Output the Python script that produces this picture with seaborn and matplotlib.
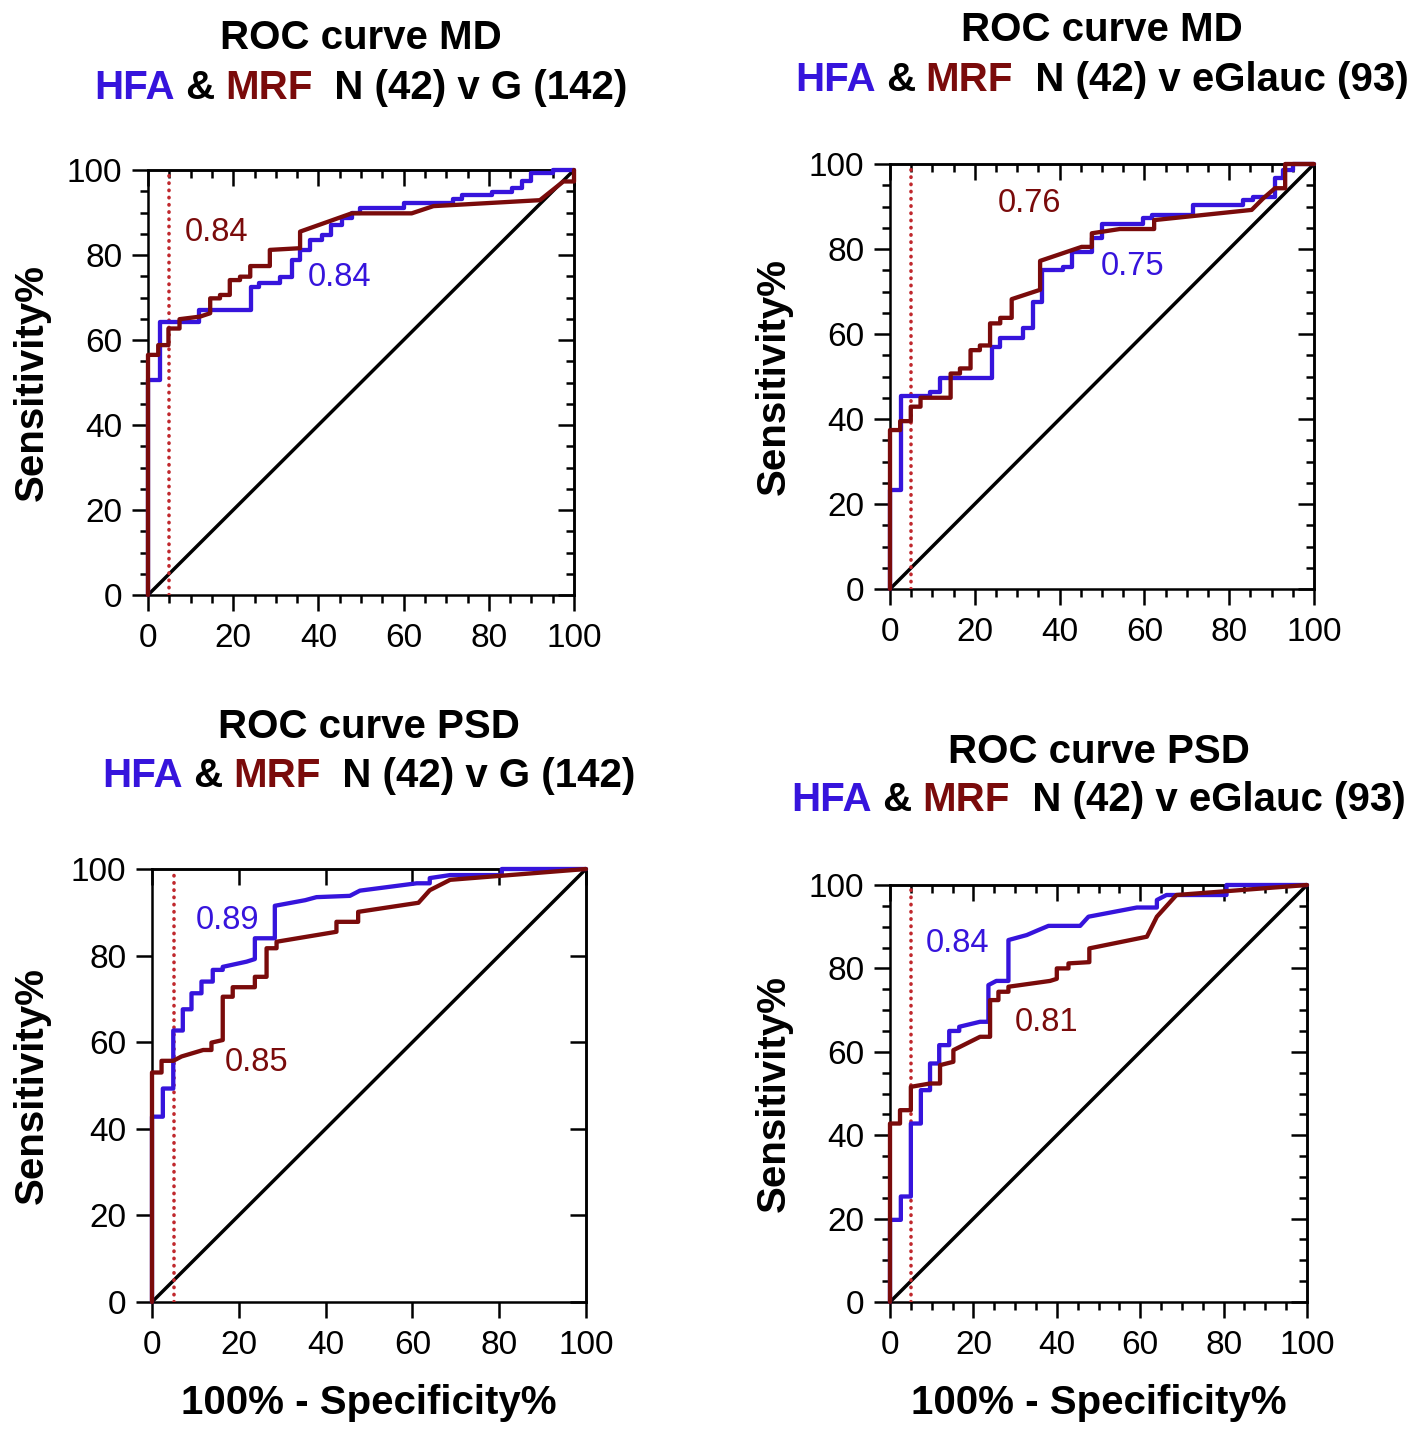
import matplotlib
matplotlib.use("Agg")
import matplotlib.pyplot as plt
from matplotlib.ticker import MultipleLocator
import pandas as pd
import seaborn as sns

# colours
HFA_BLUE = "#3614DC"
MRF_RED = "#7A0B0B"
CUT_RED = "#C0282D"

# ---- ROC curves (x = 100% - specificity, y = sensitivity) ----
md_g_hfa_x = [0, 0, 2.8, 2.8, 12, 12, 24.2, 24.2, 26, 26, 31, 31, 33.7, 33.7, 35.7, 35.7, 38, 38, 40.8, 40.8,
              43, 43, 45.5, 45.5, 47.8, 47.8, 49.8, 49.8, 60, 60, 71.7, 71.7, 73.6, 73.6, 80.7, 80.7, 85.4, 85.4,
              87.7, 87.7, 90, 90, 95, 95, 100]
md_g_hfa_y = [0, 50.6, 50.6, 64.3, 64.3, 67, 67, 72.5, 72.5, 73.5, 73.5, 74.9, 74.9, 78.8, 78.8, 81.2, 81.2, 83.5,
              83.5, 84.7, 84.7, 87, 87, 88.6, 88.6, 89.8, 89.8, 91, 91, 92.3, 92.3, 93.1, 93.1, 94.1, 94.1, 94.9,
              94.9, 95.7, 95.7, 97.3, 97.3, 99.2, 99.2, 100, 100]
md_g_mrf_x = [0, 0, 2.4, 2.4, 4.8, 4.8, 7.4, 7.4, 12.2, 14.6, 14.6, 16.9, 16.9, 19.2, 19.2, 21.6, 21.6, 24, 24,
              28.6, 28.6, 35.7, 35.7, 47.8, 61.9, 67, 92, 97.5, 100, 100]
md_g_mrf_y = [0, 56.5, 56.5, 58.8, 58.8, 62.7, 62.7, 64.9, 65.5, 66.3, 69.8, 69.8, 70.6, 70.6, 74.1, 74.1, 74.9,
              74.9, 77.4, 77.4, 81.2, 81.6, 85.5, 89.8, 89.8, 91.5, 92.9, 97.3, 97.3, 100]

md_e_hfa_x = [0, 0, 2.5, 2.5, 9.4, 9.4, 11.8, 11.8, 24, 24, 26, 26, 31.4, 31.4, 33.8, 33.8, 35.8, 35.8, 40.7,
              40.7, 43, 43, 47.6, 47.6, 50, 50, 59.7, 59.7, 61.7, 61.7, 71.5, 71.5, 83.3, 83.3, 85.7, 85.7, 90.8,
              90.8, 92.8, 92.8, 95.1, 95.1, 100]
md_e_hfa_y = [0, 23.3, 23.3, 45.3, 45.3, 46.3, 46.3, 49.7, 49.7, 57, 57, 59.1, 59.1, 61.5, 61.5, 67.6, 67.6, 75.1,
              75.1, 75.8, 75.8, 79.2, 79.2, 82.5, 82.5, 85.8, 85.8, 87.2, 87.2, 88, 88, 90.4, 90.4, 91.5, 91.5,
              92.3, 92.3, 96.6, 96.6, 98.6, 98.6, 100, 100]
md_e_mrf_x = [0, 0, 2.4, 2.4, 4.9, 4.9, 7.2, 7.2, 14.3, 14.3, 16.5, 16.5, 19, 19, 21.2, 21.2, 23.6, 23.6, 26, 26,
              28.7, 28.7, 35.4, 35.4, 45.2, 47.6, 47.6, 54.2, 62.3, 62.3, 85.3, 88, 90.8, 93.2, 93.2, 100]
md_e_mrf_y = [0, 37.4, 37.4, 39.5, 39.5, 42.9, 42.9, 45, 45, 50.7, 50.7, 51.9, 51.9, 56.2, 56.2, 57.3, 57.3, 62.5,
              62.5, 63.8, 63.8, 68.2, 70.4, 77.2, 80.5, 80.5, 83.7, 84.7, 84.7, 86.8, 89.2, 91.9, 94.3, 94.3, 100,
              100]

psd_g_hfa_x = [0, 0, 2.5, 2.5, 4.9, 4.9, 7.1, 7.1, 9.1, 9.1, 11.4, 11.4, 14, 14, 16.3, 16.3, 21.8, 23.7, 23.7,
               28.3, 28.3, 35.3, 37.9, 45.6, 47.9, 61, 64, 64, 68.7, 80.6, 80.6, 100]
psd_g_hfa_y = [0, 42.8, 42.8, 49.3, 49.3, 62.7, 62.7, 67.6, 67.6, 71.3, 71.3, 74, 74, 76.7, 76.7, 77.4, 78.6, 79.2,
               84, 84, 91.5, 92.8, 93.5, 93.8, 95, 96.7, 96.7, 97.9, 98.6, 98.6, 100, 100]
psd_g_mrf_x = [0, 0, 2.2, 2.2, 4.9, 6.8, 11.8, 13.7, 13.7, 16.3, 16.3, 18.6, 18.6, 23.7, 23.7, 26.4, 26.4, 28.7,
               28.7, 42.5, 42.5, 47.5, 47.5, 61.4, 64, 68.7, 100]
psd_g_mrf_y = [0, 53, 53, 55.7, 55.7, 56.7, 58.2, 58.2, 59.9, 60.5, 70.5, 70.5, 72.7, 72.7, 75.1, 75.1, 81.7, 81.7,
               83.2, 85.5, 87.8, 87.8, 90.1, 92.2, 95.1, 97.5, 100]

psd_e_hfa_x = [0, 0, 2.6, 2.6, 5, 5, 7.4, 7.4, 9.6, 9.6, 11.8, 11.8, 14.2, 14.2, 16.6, 16.6, 21.6, 23.6, 23.6,
               25.5, 28.4, 28.4, 32.8, 35.6, 38, 45.6, 47.6, 59.2, 64, 64, 66.3, 80.7, 80.7, 100]
psd_e_hfa_y = [0, 19.7, 19.7, 25.3, 25.3, 42.8, 42.8, 50.8, 50.8, 57.2, 57.2, 61.6, 61.6, 65, 65, 66, 67.2, 67.2,
               76, 77, 77, 86.8, 88, 89.2, 90.2, 90.2, 92.4, 94.6, 94.6, 96.4, 97.6, 97.6, 100, 100]
psd_e_mrf_x = [0, 0, 2.4, 2.4, 5, 5, 9.6, 12, 12, 15.2, 15.2, 19.2, 21.6, 24, 24, 26, 26, 28.4, 28.4, 38.4, 40,
               40, 42.8, 42.8, 47.8, 47.8, 61.6, 64, 68.7, 100]
psd_e_mrf_y = [0, 42.8, 42.8, 46, 46, 51.6, 52.4, 52.4, 56.8, 57.6, 60.4, 62.4, 63.6, 63.6, 72.4, 72.4, 74.4, 74.4,
               75.6, 77, 77.5, 80, 80, 81.2, 81.5, 84.8, 87.6, 92.4, 97.6, 100]

panel_titles = ["ROC curve MD", "ROC curve MD", "ROC curve PSD", "ROC curve PSD"]
panel_groups = ["  N (42) v G (142)", "  N (42) v eGlauc (93)", "  N (42) v G (142)", "  N (42) v eGlauc (93)"]
auc_hfa = ["0.84", "0.75", "0.89", "0.84"]
auc_mrf = ["0.84", "0.76", "0.85", "0.81"]
cutoff = 5

curves = [
    (md_g_hfa_x, md_g_hfa_y, md_g_mrf_x, md_g_mrf_y),
    (md_e_hfa_x, md_e_hfa_y, md_e_mrf_x, md_e_mrf_y),
    (psd_g_hfa_x, psd_g_hfa_y, psd_g_mrf_x, psd_g_mrf_y),
    (psd_e_hfa_x, psd_e_hfa_y, psd_e_mrf_x, psd_e_mrf_y),
]

# layout in pixels: left, right, top, bottom of each plot box, title line centres
W, H = 1417, 1440
boxes = [(148, 574, 170, 595), (890, 1314, 164, 589), (152, 586, 869, 1302), (890, 1307, 885, 1302)]
title_y = [(38, 88), (30, 80), (727, 776), (752, 800)]
hfa_pos = [(45, 74.8), (57.3, 75.8), (17.3, 88.2), (16.1, 85.9)]
mrf_pos = [(16.2, 85.4), (32.8, 90.8), (24, 55.2), (37.6, 67.1)]
minor = [True, True, False, True]
has_xlabel = [False, False, True, True]

sns.set_theme(style="ticks", rc={"axes.edgecolor": "black", "axes.linewidth": 1.8,
                                 "xtick.color": "black", "ytick.color": "black",
                                 "text.color": "black", "axes.labelcolor": "black"})
plt.rcParams["font.family"] = ["Liberation Sans", "DejaVu Sans"]

fig = plt.figure(figsize=(W / 100, H / 100), dpi=100)
renderer = fig.canvas.get_renderer()


def text_width(s, size):
    t = fig.text(0, 0, s + "|", fontsize=size, fontweight="bold")
    w = t.get_window_extent(renderer).width
    t.remove()
    return w


def colored_line(xc, yc, pieces, size=29):
    bar = text_width("", size)
    full = "".join(s for s, c in pieces)
    x0 = xc - (text_width(full, size) - bar) / 2
    prefix = ""
    for s, c in pieces:
        off = text_width(prefix, size) - bar
        fig.text((x0 + off) / W, 1 - yc / H, s, color=c, fontsize=size, fontweight="bold",
                 ha="left", va="center")
        prefix += s


for i, (hx, hy, mx, my) in enumerate(curves):
    l, r, t, b = boxes[i]
    ax = fig.add_axes([l / W, 1 - b / H, (r - l) / W, (b - t) / H])
    ax.set_xlim(0, 100)
    ax.set_ylim(0, 100)

    diag = pd.DataFrame({"x": [0, 100], "y": [0, 100]})
    sns.lineplot(data=diag, x="x", y="y", color="black", linewidth=2.5, ax=ax, zorder=2)
    ax.axvline(cutoff, color=CUT_RED, linewidth=2.6, linestyle=(0, (0.1, 1.9)),
               dash_capstyle="round", zorder=3)

    sns.lineplot(x=hx, y=hy, sort=False, estimator=None, color=HFA_BLUE, linewidth=3.1,
                 ax=ax, clip_on=False, zorder=4)
    sns.lineplot(x=mx, y=my, sort=False, estimator=None, color=MRF_RED, linewidth=3.1,
                 ax=ax, clip_on=False, zorder=5)

    ax.text(*hfa_pos[i], auc_hfa[i], color=HFA_BLUE, fontsize=23.5, ha="center", va="center")
    ax.text(*mrf_pos[i], auc_mrf[i], color=MRF_RED, fontsize=23.5, ha="center", va="center")

    ax.set_xlabel("")
    ax.set_ylabel("")
    ax.set_xticks(range(0, 101, 20))
    ax.set_yticks(range(0, 101, 20))
    ax.tick_params(which="major", direction="out", length=11.5, width=1.8, labelsize=24, pad=7)
    ax.tick_params(axis="x", which="major", pad=9)
    ax.tick_params(which="minor", direction="out", length=6, width=1.8)

    top = ax.secondary_xaxis("top")
    right = ax.secondary_yaxis("right")
    top.set_xticks(range(0, 101, 20))
    right.set_yticks(range(0, 101, 20))
    for sec, which_ax in ((top, "x"), (right, "y")):
        sec.tick_params(axis=which_ax, which="major", direction="in", length=11.5, width=1.8,
                        labeltop=False, labelright=False, labelbottom=False, labelleft=False)
        sec.tick_params(axis=which_ax, which="minor", direction="in", length=6, width=1.8)
    if minor[i]:
        ax.xaxis.set_minor_locator(MultipleLocator(5))
        ax.yaxis.set_minor_locator(MultipleLocator(5))
        top.xaxis.set_minor_locator(MultipleLocator(5))
        right.yaxis.set_minor_locator(MultipleLocator(5))
    for sp in ax.spines.values():
        sp.set_linewidth(1.8)

    xc = (l + r) / 2
    fig.text(xc / W, 1 - title_y[i][0] / H, panel_titles[i], fontsize=29, fontweight="bold",
             ha="center", va="center")
    colored_line(xc, title_y[i][1], [("HFA", HFA_BLUE), (" & ", "black"), ("MRF", MRF_RED),
                                     (panel_groups[i], "black")])

    ylab_x = (32 if l < 400 else 774) - l
    ax.text(ylab_x / (r - l), 0.5, "Sensitivity%", transform=ax.transAxes, rotation=90,
            fontsize=29, fontweight="bold", ha="center", va="center")
    if has_xlabel[i]:
        ax.text(0.5, -(1403 - b) / (b - t), "100% - Specificity%", transform=ax.transAxes,
                fontsize=29, fontweight="bold", ha="center", va="center")

fig.savefig("out.png", dpi=100)
